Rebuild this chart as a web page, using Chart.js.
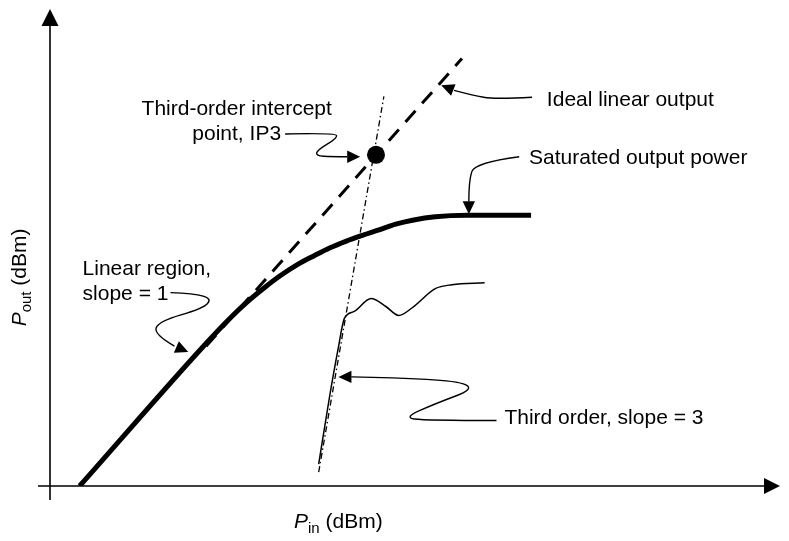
<!DOCTYPE html>
<html>
<head>
<meta charset="utf-8">
<title>Pout vs Pin</title>
<script src="https://cdn.jsdelivr.net/npm/chart.js@4.4.0/dist/chart.umd.min.js"></script>
<style>
  html, body { margin: 0; padding: 0; background: #fff; }
  canvas { display: block; }
</style>
</head>
<body>
<canvas id="ipChart" width="789" height="541"></canvas>
<script>
// axis ranges (arbitrary dB units, no ticks shown)
const pinRange = [0, 73.9];
const poutRange = [0, 48.1];

// fundamental output, linear then saturating
const fundIn  = [3.0, 16.0, 18.3, 20.0, 21.7, 23.3, 25.0, 26.7, 28.3, 30.0, 31.7, 33.3, 35.0, 36.7, 39.0, 42.3, 48.7];
const fundOut = [0.0, 14.6, 17.0, 18.6, 20.0, 21.2, 22.3, 23.2, 24.0, 24.7, 25.3, 25.83, 26.4, 26.8, 27.15, 27.3, 27.3];

// ideal linear extrapolation (dashed)
const idealIn  = [15.8, 41.7];
const idealOut = [14.1, 43.1];

// third-order extrapolation (dash-dot)
const asymIn  = [27.2, 33.8];
const asymOut = [1.4, 39.3];

// third-order product
const thirdIn  = [27.2, 28.3, 29.2, 29.8, 30.8, 32.5, 34.0, 35.3, 36.7, 39.0, 40.7, 44.0];
const thirdOut = [2.2, 9.0, 14.0, 16.9, 17.6, 18.9, 18.1, 17.2, 18.0, 19.9, 20.3, 20.5];

// intercept point
const ip3In = [33.0];
const ip3Out = [33.4];

const toXY = (xs, ys) => xs.map((v, i) => ({ x: v, y: ys[i] }));

const FONT = '"Liberation Sans", Arial, Helvetica, sans-serif';

// callouts: text at [x, y] baseline, arrow path control points, arrow tip
const notes = [
  { lines: ['Third-order intercept', 'point, IP3'], at: [18.9, 37.4], align: 'center',
    path: [[23.8, 35.5], [28.9, 35.6], [29.1, 35.1], [27.1, 33.9], [26.9, 33.3], [28.5, 33.2], [30.1, 33.2]],
    tip: [31.4, 33.2] },
  { lines: ['Ideal linear output'], at: [50.3, 38.3], align: 'left',
    path: [[48.8, 39.2], [45.0, 39.0], [42.8, 39.4], [40.9, 39.9]],
    tip: [39.6, 40.4] },
  { lines: ['Saturated output power'], at: [48.5, 32.45], align: 'left',
    path: [[47.5, 33.2], [43.0, 32.6], [42.4, 30.8], [42.4, 28.7]],
    tip: [42.4, 27.4] },
  { lines: ['Linear region,', 'slope = 1'], at: [3.3, 21.3], align: 'left',
    path: [[12.2, 19.5], [14.6, 19.4], [16.4, 18.9], [15.5, 17.9], [11.0, 16.6], [10.5, 15.3], [12.6, 14.1]],
    tip: [14.0, 13.5] },
  { lines: ['Third order, slope = 3'], at: [46.0, 6.3], align: 'left',
    path: [[45.2, 6.6], [38.0, 6.6], [35.8, 6.9], [39.0, 8.3], [43.0, 9.8], [41.2, 10.6], [35.0, 10.9], [30.5, 11.0]],
    tip: [29.2, 11.0] }
];

function arrowHead(ctx, from, tip, len, half) {
  const dx = tip.x - from.x, dy = tip.y - from.y;
  const d = Math.hypot(dx, dy) || 1;
  const ux = dx / d, uy = dy / d;
  const bx = tip.x - ux * len, by = tip.y - uy * len;
  ctx.beginPath();
  ctx.moveTo(tip.x, tip.y);
  ctx.lineTo(bx - uy * half, by + ux * half);
  ctx.lineTo(bx + uy * half, by - ux * half);
  ctx.closePath();
  ctx.fill();
}

function smoothPath(ctx, pts) {
  ctx.beginPath();
  ctx.moveTo(pts[0].x, pts[0].y);
  for (let i = 1; i < pts.length - 2; i++) {
    ctx.quadraticCurveTo(pts[i].x, pts[i].y, (pts[i].x + pts[i + 1].x) / 2, (pts[i].y + pts[i + 1].y) / 2);
  }
  const n = pts.length;
  ctx.quadraticCurveTo(pts[n - 2].x, pts[n - 2].y, pts[n - 1].x, pts[n - 1].y);
  ctx.stroke();
}

function subLabel(ctx, x, y, main, sub, rest) {
  ctx.textAlign = 'left';
  ctx.font = 'italic 21px ' + FONT;
  ctx.fillText(main, x, y);
  x += ctx.measureText(main).width;
  ctx.font = '15px ' + FONT;
  ctx.fillText(sub, x, y + 5);
  x += ctx.measureText(sub).width;
  ctx.font = '21px ' + FONT;
  ctx.fillText(rest, x, y);
}

const axesPlugin = {
  id: 'axesArrows',
  beforeDatasetsDraw(chart) {
    const { ctx, scales: { x, y } } = chart;
    const x0 = x.getPixelForValue(pinRange[0]);
    const y0 = y.getPixelForValue(poutRange[0]);
    const xEnd = x.getPixelForValue(pinRange[1]);
    const yEnd = y.getPixelForValue(poutRange[1]);
    ctx.save();
    ctx.strokeStyle = '#000';
    ctx.fillStyle = '#000';
    ctx.lineWidth = 1.6;
    ctx.beginPath();
    ctx.moveTo(x0, y0 + 14);
    ctx.lineTo(x0, yEnd + 10);
    ctx.moveTo(x0 - 12, y0);
    ctx.lineTo(xEnd - 10, y0);
    ctx.stroke();
    arrowHead(ctx, { x: x0, y: y0 }, { x: x0, y: yEnd }, 17, 8.5);
    arrowHead(ctx, { x: x0, y: y0 }, { x: xEnd, y: y0 }, 16, 8);

    // axis titles
    ctx.textBaseline = 'alphabetic';
    subLabel(ctx, x.getPixelForValue(24.7), y.getPixelForValue(-4.2), 'P', 'in', ' (dBm)');
    ctx.save();
    ctx.translate(x.getPixelForValue(-2.4), y.getPixelForValue(16.1));
    ctx.rotate(-Math.PI / 2);
    subLabel(ctx, 0, 0, 'P', 'out', ' (dBm)');
    ctx.restore();
    ctx.restore();
  },
  afterDatasetsDraw(chart) {
    const { ctx, scales: { x, y } } = chart;
    const px = p => ({ x: x.getPixelForValue(p[0]), y: y.getPixelForValue(p[1]) });
    ctx.save();
    ctx.strokeStyle = '#000';
    ctx.fillStyle = '#000';
    ctx.lineWidth = 1.4;
    ctx.font = '21px ' + FONT;
    ctx.textBaseline = 'alphabetic';
    notes.forEach(n => {
      const a = px(n.at);
      ctx.textAlign = n.align;
      n.lines.forEach((t, i) => ctx.fillText(t, a.x, a.y + i * 25));
      const pts = n.path.map(px);
      smoothPath(ctx, pts);
      arrowHead(ctx, pts[pts.length - 1], px(n.tip), 13, 6.2);
    });
    ctx.restore();
  }
};

new Chart(document.getElementById('ipChart'), {
  type: 'scatter',
  data: {
    datasets: [
      {
        label: 'IP3',
        data: toXY(ip3In, ip3Out),
        pointRadius: 9,
        pointBackgroundColor: '#000',
        pointBorderWidth: 0,
        showLine: false
      },
      {
        label: 'Ideal linear',
        data: toXY(idealIn, idealOut),
        showLine: true,
        borderColor: '#000',
        borderWidth: 3,
        borderDash: [15, 10],
        pointRadius: 0
      },
      {
        label: 'Fundamental',
        data: toXY(fundIn, fundOut),
        showLine: true,
        borderColor: '#000',
        borderWidth: 5,
        pointRadius: 0,
        cubicInterpolationMode: 'monotone',
        borderCapStyle: 'butt',
        borderJoinStyle: 'round'
      },
      {
        label: 'Third order',
        data: toXY(thirdIn, thirdOut),
        showLine: true,
        borderColor: '#000',
        borderWidth: 1.5,
        pointRadius: 0,
        cubicInterpolationMode: 'monotone'
      },
      {
        label: 'Third-order asymptote',
        data: toXY(asymIn, asymOut),
        showLine: true,
        borderColor: '#000',
        borderWidth: 1.3,
        borderDash: [6, 3, 1.5, 3],
        pointRadius: 0
      }
    ]
  },
  options: {
    responsive: false,
    devicePixelRatio: 1,
    animation: false,
    events: [],
    layout: { padding: { left: 50, right: 0, top: 5, bottom: 55 } },
    scales: {
      x: { type: 'linear', min: pinRange[0], max: pinRange[1], display: false },
      y: { type: 'linear', min: poutRange[0], max: poutRange[1], display: false }
    },
    plugins: {
      legend: { display: false },
      tooltip: { enabled: false }
    }
  },
  plugins: [axesPlugin]
});
</script>
</body>
</html>
